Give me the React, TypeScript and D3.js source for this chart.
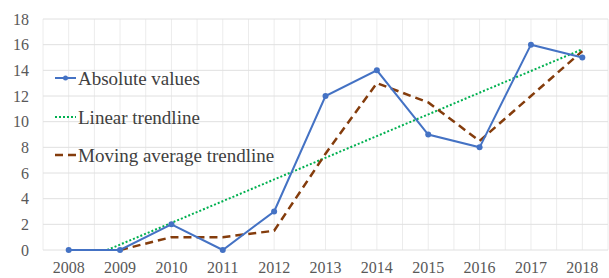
import * as d3 from 'd3';
import { useEffect, useRef } from 'react';

const years = [2008, 2009, 2010, 2011, 2012, 2013, 2014, 2015, 2016, 2017, 2018];
const absoluteValues = [0, 0, 2, 0, 3, 12, 14, 9, 8, 16, 15];
const movingYears = [2009, 2010, 2011, 2012, 2013, 2014, 2015, 2016, 2017, 2018];
const movingValues = [0, 1, 1, 1.5, 7.5, 13, 11.5, 8.5, 12, 15.5];
const linearYears = [2008.75, 2018];
const linearValues = [0, 15.64];
const yTicks = [0, 2, 4, 6, 8, 10, 12, 14, 16, 18];
const legendLabels = ['Absolute values', 'Linear trendline', 'Moving average trendline'];

export default function App() {
  const ref = useRef<SVGSVGElement | null>(null);

  useEffect(() => {
    const svg = d3.select(ref.current);
    const width = 609;
    const height = 278;
    const margin = { top: 19, right: 1, bottom: 28, left: 43 };
    const font = "'Liberation Serif', 'Times New Roman', 'DejaVu Serif', serif";

    svg.selectAll('*').remove();
    svg.attr('width', width).attr('height', height);

    const x = d3.scaleLinear()
      .domain([2007.5, 2018.5])
      .range([margin.left, width - margin.right]);

    const y = d3.scaleLinear()
      .domain([0, 18])
      .range([height - margin.bottom, margin.top]);

    // grid: half-category verticals, every 2 horizontals
    const vGrid = d3.range(2007.5, 2018.51, 0.5);
    svg.append('g')
      .selectAll('line')
      .data(vGrid)
      .join('line')
      .attr('x1', d => x(d)).attr('x2', d => x(d))
      .attr('y1', y(0)).attr('y2', y(18))
      .attr('stroke', '#ececec').attr('stroke-width', 1);

    svg.append('g')
      .selectAll('line')
      .data(yTicks)
      .join('line')
      .attr('x1', x(2007.5)).attr('x2', x(2018.5))
      .attr('y1', d => y(d)).attr('y2', d => y(d))
      .attr('stroke', '#e0e0e0').attr('stroke-width', 1);

    // y labels
    svg.append('g')
      .selectAll('text')
      .data(yTicks)
      .join('text')
      .attr('x', 29)
      .attr('y', d => y(d))
      .attr('dy', '0.35em')
      .attr('text-anchor', 'end')
      .style('font-family', font)
      .style('font-size', '16px')
      .attr('fill', '#595959')
      .text(d => d);

    // x labels
    svg.append('g')
      .selectAll('text')
      .data(years)
      .join('text')
      .attr('x', d => x(d))
      .attr('y', 273)
      .attr('text-anchor', 'middle')
      .style('font-family', font)
      .style('font-size', '16px')
      .attr('fill', '#595959')
      .text(d => d);

    // linear trendline
    svg.append('path')
      .datum(linearYears.map((yr, i) => [yr, linearValues[i]] as [number, number]))
      .attr('fill', 'none')
      .attr('stroke', '#00b050')
      .attr('stroke-width', 2)
      .attr('stroke-dasharray', '2,2')
      .attr('d', d3.line<[number, number]>().x(d => x(d[0])).y(d => y(d[1])));

    // moving average
    svg.append('path')
      .datum(movingYears.map((yr, i) => [yr, movingValues[i]] as [number, number]))
      .attr('fill', 'none')
      .attr('stroke', '#843c0c')
      .attr('stroke-width', 2.5)
      .attr('stroke-dasharray', '8,5')
      .attr('d', d3.line<[number, number]>().x(d => x(d[0])).y(d => y(d[1])));

    // absolute values
    const pts = years.map((yr, i) => [yr, absoluteValues[i]] as [number, number]);
    svg.append('path')
      .datum(pts)
      .attr('fill', 'none')
      .attr('stroke', '#4472c4')
      .attr('stroke-width', 2)
      .attr('d', d3.line<[number, number]>().x(d => x(d[0])).y(d => y(d[1])));

    svg.append('g')
      .selectAll('circle')
      .data(pts)
      .join('circle')
      .attr('cx', d => x(d[0]))
      .attr('cy', d => y(d[1]))
      .attr('r', 3)
      .attr('fill', '#4472c4');

    // legend
    const legendY = [78, 117, 155];
    const lg = svg.append('g');
    legendLabels.forEach((label, i) => {
      const ly = legendY[i];
      const line = lg.append('line')
        .attr('x1', 55).attr('x2', 76)
        .attr('y1', ly).attr('y2', ly);
      if (i === 0) {
        line.attr('stroke', '#4472c4').attr('stroke-width', 2);
        lg.append('circle').attr('cx', 65.5).attr('cy', ly).attr('r', 2.5).attr('fill', '#4472c4');
      } else if (i === 1) {
        line.attr('stroke', '#00b050').attr('stroke-width', 2).attr('stroke-dasharray', '2,2');
      } else {
        line.attr('stroke', '#843c0c').attr('stroke-width', 2.5).attr('stroke-dasharray', '8,5');
      }
      lg.append('text')
        .attr('x', 78)
        .attr('y', ly)
        .attr('dy', '0.35em')
        .style('font-family', font)
        .style('font-size', '19px')
        .attr('fill', '#404040')
        .text(label);
    });
  }, []);

  return <svg ref={ref} style={{ position: 'absolute', left: 0, top: 0 }}></svg>;
}
